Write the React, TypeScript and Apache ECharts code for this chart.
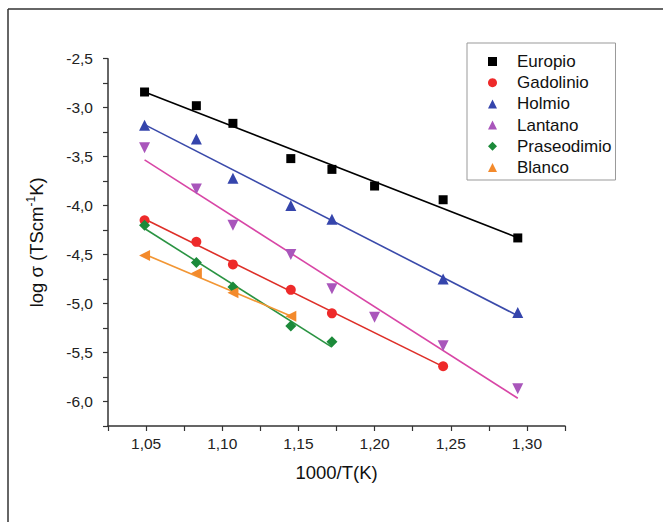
import React, { useEffect, useRef } from "react";
import * as echarts from "echarts";

const xEuropio = [1.049, 1.083, 1.107, 1.145, 1.172, 1.2, 1.245, 1.294];
const yEuropio = [-2.84, -2.98, -3.16, -3.52, -3.63, -3.8, -3.94, -4.33];
const xGadolinio = [1.049, 1.083, 1.107, 1.145, 1.172, 1.245];
const yGadolinio = [-4.15, -4.37, -4.6, -4.86, -5.1, -5.64];
const xHolmio = [1.049, 1.083, 1.107, 1.145, 1.172, 1.245, 1.294];
const yHolmio = [-3.18, -3.32, -3.72, -4.0, -4.14, -4.75, -5.09];
const xLantano = [1.049, 1.083, 1.107, 1.145, 1.172, 1.2, 1.245, 1.294];
const yLantano = [-3.41, -3.83, -4.2, -4.5, -4.85, -5.14, -5.43, -5.87];
const xPraseodimio = [1.049, 1.083, 1.107, 1.145, 1.172];
const yPraseodimio = [-4.2, -4.58, -4.83, -5.23, -5.39];
const xBlanco = [1.049, 1.083, 1.107, 1.145];
const yBlanco = [-4.51, -4.69, -4.89, -5.13];

const seriesNames = ["Europio", "Gadolinio", "Holmio", "Lantano", "Praseodimio", "Blanco"];

function fitLine(xs: number[], ys: number[]): number[][] {
  const n = xs.length;
  const mx = xs.reduce((a, b) => a + b, 0) / n;
  const my = ys.reduce((a, b) => a + b, 0) / n;
  let sxy = 0;
  let sxx = 0;
  for (let i = 0; i < n; i++) {
    sxy += (xs[i] - mx) * (ys[i] - my);
    sxx += (xs[i] - mx) * (xs[i] - mx);
  }
  const b = sxy / sxx;
  const a = my - b * mx;
  const x0 = xs[0];
  const x1 = xs[n - 1];
  return [
    [x0, a + b * x0],
    [x1, a + b * x1],
  ];
}

const zip = (xs: number[], ys: number[]) => xs.map((x, i) => [x, ys[i]]);

export default function App() {
  const ref = useRef<HTMLDivElement>(null);
  useEffect(() => {
    if (!ref.current) return;
    const chart = echarts.init(ref.current, undefined, { renderer: "svg" });
    const defs = [
      { name: seriesNames[0], xs: xEuropio, ys: yEuropio, mk: "#000000", ln: "#000000", symbol: "rect", size: 9, rot: 0 },
      { name: seriesNames[1], xs: xGadolinio, ys: yGadolinio, mk: "#ee2a2a", ln: "#de2f28", symbol: "circle", size: 10, rot: 0 },
      { name: seriesNames[2], xs: xHolmio, ys: yHolmio, mk: "#3545ac", ln: "#3a4aaa", symbol: "triangle", size: 11, rot: 0 },
      { name: seriesNames[3], xs: xLantano, ys: yLantano, mk: "#a956bb", ln: "#d846a6", symbol: "triangle", size: 11, rot: 180 },
      { name: seriesNames[4], xs: xPraseodimio, ys: yPraseodimio, mk: "#1c8a3a", ln: "#2a9342", symbol: "diamond", size: 11, rot: 0 },
      { name: seriesNames[5], xs: xBlanco, ys: yBlanco, mk: "#f38a2c", ln: "#f29634", symbol: "triangle", size: 11, rot: 90 },
    ];
    const series: any[] = [];
    defs.forEach((d) => {
      series.push({
        name: d.name + " fit",
        type: "line",
        data: fitLine(d.xs, d.ys),
        showSymbol: false,
        lineStyle: { color: d.ln, width: 1.6 },
        silent: true,
        z: 2,
      });
    });
    defs.forEach((d) => {
      series.push({
        name: d.name,
        type: "scatter",
        data: zip(d.xs, d.ys),
        symbol: d.symbol,
        symbolSize: d.size,
        symbolRotate: d.rot,
        itemStyle: { color: d.mk, opacity: 1 },
        z: 3,
      });
    });
    const font = "'Liberation Sans', Arial, sans-serif";
    chart.setOption({
      animation: false,
      backgroundColor: "#ffffff",
      grid: { left: 108, right: 98, top: 58.7, bottom: 96, containLabel: false },
      legend: {
        data: seriesNames,
        orient: "vertical",
        left: 467,
        top: 43,
        padding: [10, 4, 4, 21],
        borderColor: "#999999",
        borderWidth: 1,
        itemWidth: 9,
        itemHeight: 9,
        itemGap: 4.2,
        textStyle: { fontFamily: font, fontSize: 17, color: "#111111", lineHeight: 17, padding: [0, 0, 0, 15] },
      },
      xAxis: {
        type: "value",
        min: 1.025,
        max: 1.325,
        interval: 0.025,
        name: "1000/T(K)",
        nameLocation: "middle",
        nameGap: 37,
        nameTextStyle: { fontFamily: font, fontSize: 18.5, color: "#111111" },
        axisLine: { lineStyle: { color: "#333333", width: 1.5 } },
        axisTick: { length: 5, lineStyle: { color: "#333333", width: 1.2 } },
        splitLine: { show: false },
        axisLabel: {
          fontFamily: font,
          fontSize: 15.5,
          color: "#222222",
          margin: 9,
          formatter: (v: number) => (Math.round(v * 1000) % 50 === 0 ? v.toFixed(2).replace(".", ",") : ""),
        },
      },
      yAxis: {
        type: "value",
        min: -6.25,
        max: -2.5,
        interval: 0.25,
        name: "log σ (TScm{sup|-1}K)",
        nameLocation: "middle",
        nameGap: 61,
        nameRotate: 90,
        nameTextStyle: {
          fontFamily: font,
          fontSize: 18.5,
          color: "#111111",
          rich: { sup: { fontFamily: font, fontSize: 12, color: "#111111", padding: [0, 0, 10, 0] } },
        },
        axisLine: { show: true, lineStyle: { color: "#333333", width: 1.5 } },
        axisTick: { show: true, length: 5, lineStyle: { color: "#333333", width: 1.2 } },
        splitLine: { show: false },
        axisLabel: {
          fontFamily: font,
          fontSize: 15.5,
          color: "#222222",
          margin: 15,
          formatter: (v: number) => (Math.abs(Math.round(v * 100)) % 50 === 0 ? v.toFixed(1).replace(".", ",") : ""),
        },
      },
      graphic: [
        { type: "line", shape: { x1: 8, y1: 9, x2: 663, y2: 9 }, style: { stroke: "#333333", lineWidth: 1.5 } },
        { type: "line", shape: { x1: 8, y1: 9, x2: 8, y2: 522 }, style: { stroke: "#333333", lineWidth: 1.5 } },
      ],
      series,
    });
    return () => chart.dispose();
  }, []);
  return <div ref={ref} style={{ position: "absolute", left: 0, top: 0, width: 663, height: 522 }} />;
}
